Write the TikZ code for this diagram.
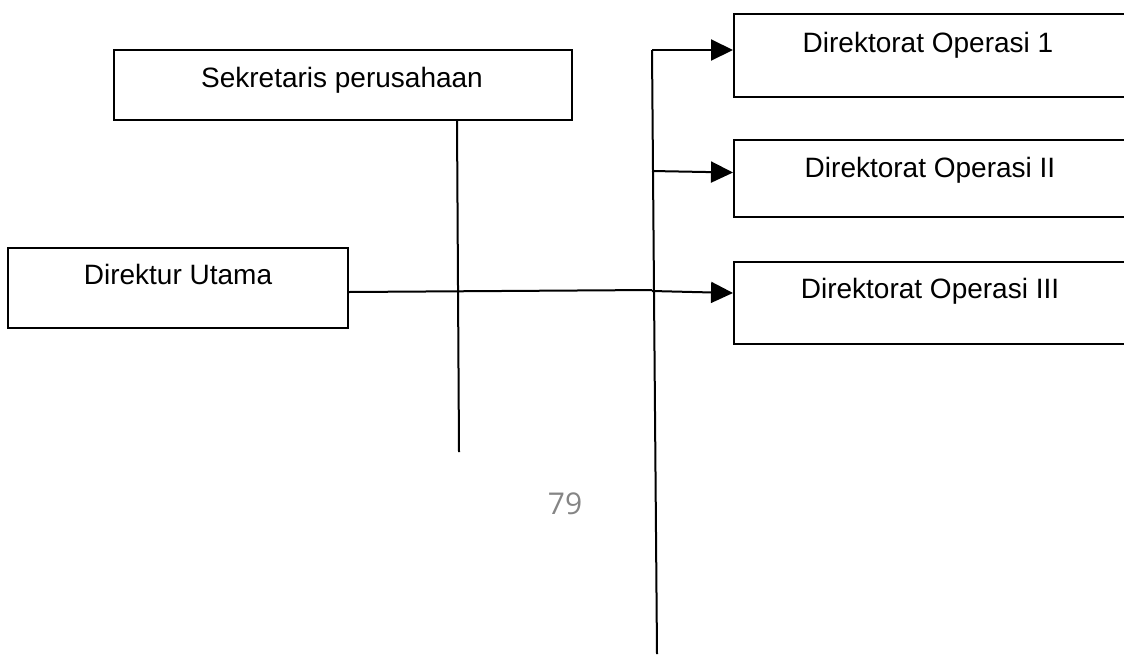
\documentclass[tikz,border=0pt]{standalone}
\usepackage{fontspec}
\setmainfont{Liberation Sans}
\newfontfamily\pagefont{Open Sans}
\usetikzlibrary{arrows.meta}
\begin{document}
\begin{tikzpicture}[x=1pt,y=-1pt,
  box/.style={draw=black, line width=2pt, rectangle, inner sep=0pt, anchor=north west},
  lbl/.style={anchor=base, inner sep=0pt, font=\fontsize{28}{32}\selectfont},
  link/.style={draw=black, line width=2pt},
  feed/.style={link, -{Triangle[length=22pt,width=21pt]}},
  pagenum/.style={anchor=base, inner sep=0pt, text=black!48, font=\pagefont\fontsize{30}{34}\selectfont}]
  \useasboundingbox (0,0) rectangle (1124,654);
  \clip (0,0) rectangle (1124,654);

  % boxes
  \node[box, minimum width=458pt, minimum height=70pt] (sek) at (113,49) {};
  \node[box, minimum width=340pt, minimum height=80pt] (du) at (7,247) {};
  \node[box, minimum width=420pt, minimum height=83pt] (op1) at (733,12.5) {};
  \node[box, minimum width=420pt, minimum height=77pt] (op2) at (733,139) {};
  \node[box, minimum width=420pt, minimum height=82pt] (op3) at (733,260.5) {};

  % box texts
  \node[lbl] (tsek) at (342,87) {Sekretaris perusahaan};
  \node[lbl] (tdu) at (178,284) {Direktur Utama};
  \node[lbl] (top1) at (928,52) {Direktorat Operasi 1};
  \node[lbl] (top2) at (930,177) {Direktorat Operasi II};
  \node[lbl] (top3) at (930,298) {Direktorat Operasi III};

  % junction points
  \coordinate (sekend) at (459,452);
  \coordinate (ttop) at (652,50);
  \coordinate (tbot) at (657,654);
  \coordinate (j1) at (652,50);
  \coordinate (j2) at (652,171);
  \coordinate (j3) at (652,291);
  \coordinate (dumid) at (652,290);

  % connectors
  \draw[link] (sek.south -| 457,0) -- (sekend);
  \draw[link] (ttop) -- (tbot);
  \draw[link] (du.east |- 0,292) -- (dumid);
  \draw[feed] (j1) -- (j1 -| op1.west);
  \draw[feed] (j2) -- (op2.west |- 0,172.5);
  \draw[feed] (j3) -- (op3.west |- 0,293);

  % page number
  \node[pagenum] (pg) at (565,514) {79};
\end{tikzpicture}
\end{document}
